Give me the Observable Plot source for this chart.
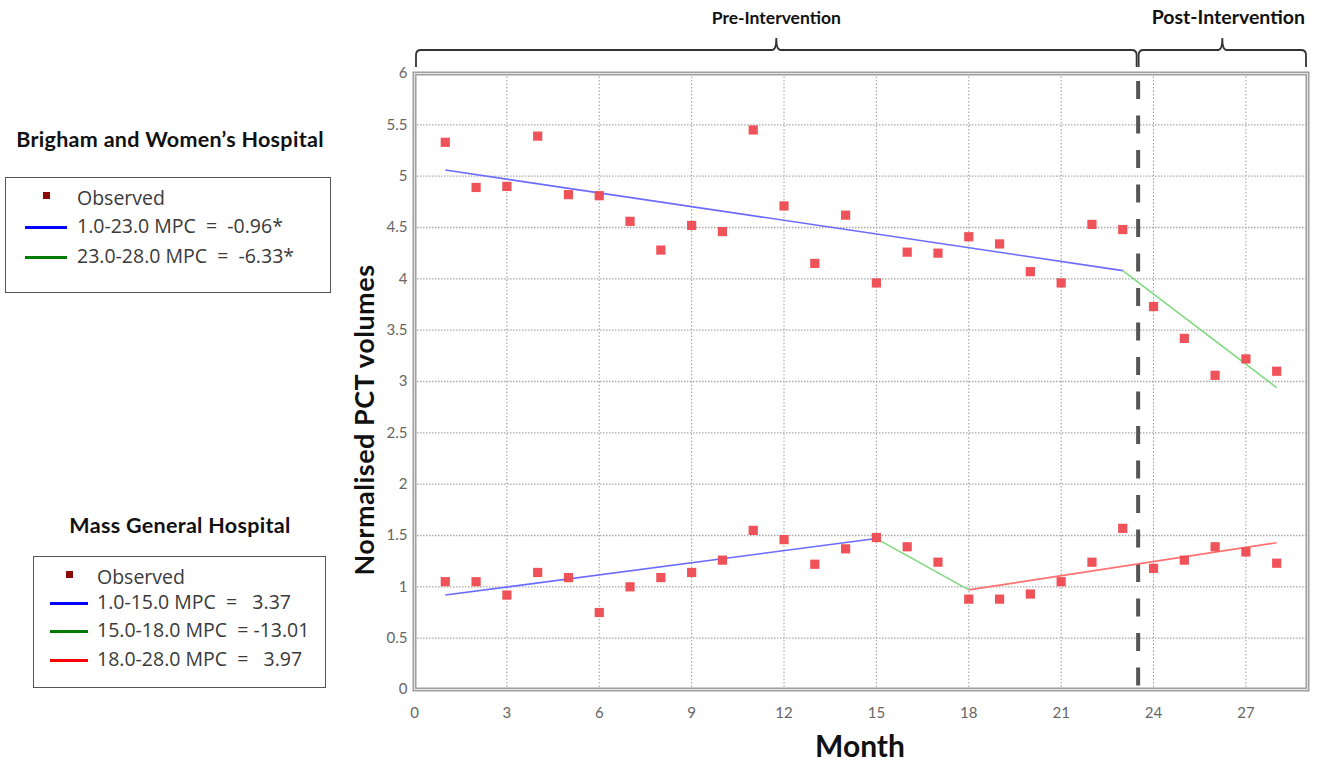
<!DOCTYPE html>
<html>
<head>
<meta charset="utf-8">
<script src="https://cdn.jsdelivr.net/npm/d3@7"></script>
<script src="https://cdn.jsdelivr.net/npm/@observablehq/plot@0.6"></script>
<style>
  html, body { margin: 0; padding: 0; background: #fff; }
  #wrap { position: relative; width: 1320px; height: 766px; overflow: hidden; }
  #chart { position: absolute; left: 0; top: 0; }
  .ltitle { position: absolute; font-family: Lato, sans-serif; font-weight: 700; font-size: 21.5px; letter-spacing: 0.3px; color: #111; white-space: nowrap; }
  .lbox { position: absolute; border: 1.5px solid #555; box-sizing: border-box; background: #fff; }
  .lrow { position: absolute; font-family: "Open Sans", sans-serif; font-size: 19.5px; color: #3a3a3a; white-space: pre; line-height: 24px; }
  .lsym { position: absolute; }
</style>
</head>
<body>
<div id="wrap">
  <div id="chart"></div>
</div>
<script>
// ---------------- data ----------------
const months = d3.range(1, 29);
const bwhObserved = [5.33, 4.89, 4.90, 5.39, 4.82, 4.81, 4.56, 4.28, 4.52, 4.46, 5.45, 4.71, 4.15, 4.62,
                     3.96, 4.26, 4.25, 4.41, 4.34, 4.07, 3.96, 4.53, 4.48, 3.73, 3.42, 3.06, 3.22, 3.10];
const mghObserved = [1.05, 1.05, 0.92, 1.14, 1.09, 0.75, 1.00, 1.09, 1.14, 1.26, 1.55, 1.46, 1.22, 1.37,
                     1.48, 1.39, 1.24, 0.88, 0.88, 0.93, 1.05, 1.24, 1.57, 1.18, 1.26, 1.39, 1.34, 1.23];
const bwhJoinpoints = [1, 23, 28];
const bwhFitted = [5.06, 4.08, 2.94];
const bwhSegColors = ["#6b6bff", "#7fda7f"];
const mghJoinpoints = [1, 15, 18, 28];
const mghFitted = [0.92, 1.47, 0.97, 1.43];
const mghSegColors = ["#6b6bff", "#7fda7f", "#ff7070"];
const interventionMonth = 23.5;
const xTicks = [0, 3, 6, 9, 12, 15, 18, 21, 24, 27];
const yTicks = [0, 0.5, 1, 1.5, 2, 2.5, 3, 3.5, 4, 4.5, 5, 5.5, 6];
const phaseLabels = ["Pre-Intervention", "Post-Intervention"];
const xDomain = [0, 29];
const yDomain = [0, 6];

const bwhLegend = {title: "Brigham and Women\u2019s Hospital", rows: ["Observed", "1.0-23.0 MPC  =  -0.96*", "23.0-28.0 MPC  =  -6.33*"], colors: ["#8b0a0a", "#0000ff", "#007a00"]};
const mghLegend = {title: "Mass General Hospital", rows: ["Observed", "1.0-15.0 MPC  =   3.37", "15.0-18.0 MPC  = -13.01", "18.0-28.0 MPC  =   3.97"], colors: ["#8b0a0a", "#0000ff", "#007a00", "#ff0000"]};

// ---------------- build tables ----------------
const points = months.flatMap((m, i) => [
  {month: m, value: bwhObserved[i]},
  {month: m, value: mghObserved[i]}
]);
function segments(xs, ys, colors) {
  return xs.slice(0, -1).map((x, i) => ({x1: x, y1: ys[i], x2: xs[i + 1], y2: ys[i + 1], color: colors[i]}));
}
const segs = [...segments(bwhJoinpoints, bwhFitted, bwhSegColors), ...segments(mghJoinpoints, mghFitted, mghSegColors)];

// ---------------- plot ----------------
const plot = Plot.plot({
  width: 1320,
  height: 766,
  marginLeft: 414,
  marginRight: 13,
  marginTop: 73,
  marginBottom: 77,
  style: {fontFamily: "Lato, sans-serif", fontSize: "15px", color: "#666", background: "transparent"},
  x: {domain: xDomain, ticks: xTicks, tickSize: 0, tickPadding: 18, label: null},
  y: {domain: yDomain, ticks: yTicks, tickSize: 0, tickPadding: 7, label: null, tickFormat: d3.format("~g")},
  marks: [
    Plot.gridX(xTicks, {stroke: "#9a9a9a", strokeOpacity: 1, strokeDasharray: "1.5,2"}),
    Plot.gridY(yTicks, {stroke: "#a8a8a8", strokeOpacity: 1, strokeDasharray: "1.5,1.5", strokeWidth: 1.3}),
    Plot.ruleX([interventionMonth], {stroke: "#555", strokeWidth: 4, strokeDasharray: "18,16.5", strokeDashoffset: 26.5}),
    Plot.link(segs, {x1: "x1", y1: "y1", x2: "x2", y2: "y2", stroke: "color", strokeWidth: 1.6}),
    Plot.dot(points, {x: "month", y: "value", symbol: "square", r: 5.2, fill: "#ee4a50", fillOpacity: 0.95, stroke: "none"}),
    Plot.frame({stroke: "#9a9a9a", strokeWidth: 4}),
    Plot.frame({stroke: "#e4e4e4", strokeWidth: 1.2})
  ]
});
document.getElementById("chart").appendChild(plot);

// ---------------- annotations (braces, axis titles) ----------------
const svg = d3.select(plot);
const xs = plot.scale("x");
const px = v => xs.apply(v);
function brace(x0, x1, yLine, yEnd, yTip) {
  const xm = (x0 + x1) / 2, r = 5;
  return `M${x0},${yEnd} L${x0},${yLine + r} Q${x0},${yLine} ${x0 + r},${yLine} L${xm - 4},${yLine} Q${xm},${yLine} ${xm},${yTip} Q${xm},${yLine} ${xm + 4},${yLine} L${x1 - r},${yLine} Q${x1},${yLine} ${x1},${yLine + r} L${x1},${yEnd}`;
}
const phases = [[xDomain[0], interventionMonth], [interventionMonth, xDomain[1]]];
const phaseFont = [17.5, 19.5];
phases.forEach(([a, b], i) => {
  const x0 = px(a) + (i === 0 ? 2 : 1), x1 = px(b) - 1;
  svg.append("path").attr("d", brace(x0, x1, 50, 67, 38)).attr("fill", "none").attr("stroke", "#333").attr("stroke-width", 1.8);
  svg.append("text").attr("x", (x0 + x1) / 2 + (i === 1 ? 6 : 0)).attr("y", 24)
    .attr("text-anchor", "middle").attr("font-family", "Lato, sans-serif").attr("font-weight", 700)
    .attr("font-size", phaseFont[i]).attr("fill", "#111").text(phaseLabels[i]);
});
svg.append("text").attr("transform", "translate(374,420) rotate(-90)").attr("text-anchor", "middle")
  .attr("font-family", "Lato, sans-serif").attr("font-weight", 700).attr("font-size", 27).attr("letter-spacing", 0.5).attr("fill", "#111")
  .text("Normalised PCT volumes");
svg.append("text").attr("x", 860).attr("y", 757).attr("text-anchor", "middle")
  .attr("font-family", "Lato, sans-serif").attr("font-weight", 700).attr("font-size", 30).attr("fill", "#111")
  .text("Month");

// ---------------- legends ----------------
const wrap = document.getElementById("wrap");
function el(cls, style, text) {
  const d = document.createElement("div");
  d.className = cls;
  Object.assign(d.style, style);
  if (text != null) d.textContent = text;
  wrap.appendChild(d);
  return d;
}
function legend(spec, titleCenterX, titleY, box, rowYs, symX, symW, textX) {
  el("ltitle", {top: titleY + "px", left: titleCenterX + "px", transform: "translateX(-50%)"}, spec.title);
  el("lbox", {left: box[0] + "px", top: box[1] + "px", width: box[2] + "px", height: box[3] + "px"});
  spec.rows.forEach((row, i) => {
    const y = rowYs[i];
    if (i === 0) {
      el("lsym", {left: (symX + symW / 2 - 3.5) + "px", top: (y - 7) + "px", width: "7px", height: "7px", background: spec.colors[0]});
    } else {
      el("lsym", {left: symX + "px", top: (y - 1.5) + "px", width: symW + "px", height: "3px", background: spec.colors[i]});
    }
    el("lrow", {left: textX + "px", top: (y - 13) + "px"}, row);
  });
}
legend(bwhLegend, 170, 126, [5, 177, 326, 116], [199, 227, 257], 25, 42, 77);
legend(mghLegend, 180, 512, [33, 556, 293, 132], [578, 603, 631, 660], 50, 38, 97);
</script>
</body>
</html>
